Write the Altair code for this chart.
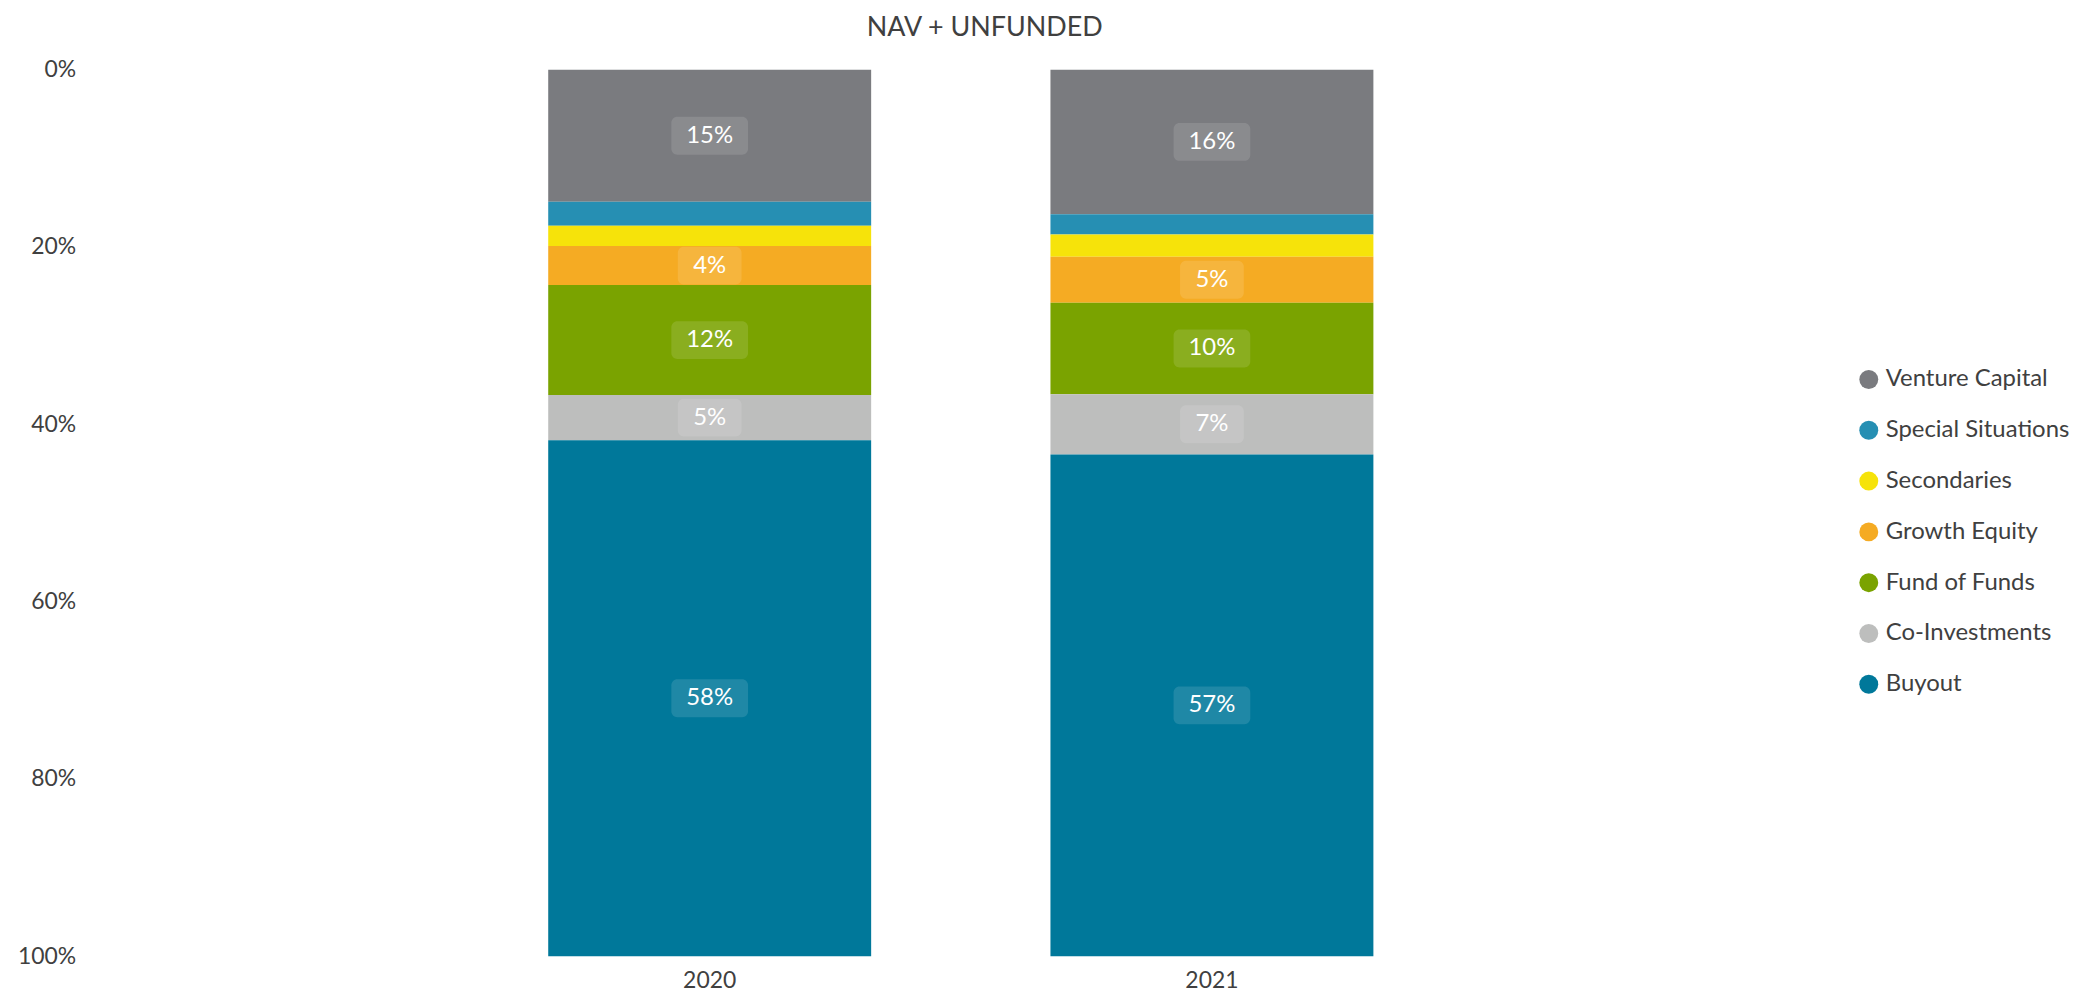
import altair as alt
import pandas as pd

years = ["2020", "2021"]
series = ["Venture Capital", "Special Situations", "Secondaries", "Growth Equity",
          "Fund of Funds", "Co-Investments", "Buyout"]
colors = ["#7A7B7F", "#268FB3", "#F6E30A", "#F5AB23", "#7AA300", "#BDBEBD", "#00789A"]
values_2020 = [14.9, 2.7, 2.3, 4.4, 12.4, 5.1, 58.2]
values_2021 = [16.3, 2.3, 2.5, 5.2, 10.3, 6.8, 56.6]
labelled = ["Venture Capital", "Growth Equity", "Fund of Funds", "Co-Investments", "Buyout"]
y_ticks = [0, 0.2, 0.4, 0.6, 0.8, 1.0]

rows = []
for yr, vals in zip(years, [values_2020, values_2021]):
    for i, (s, v) in enumerate(zip(series, vals)):
        rows.append({"year": yr, "series": s, "value": v / 100.0, "ord": i,
                     "show": s in labelled})
df = pd.DataFrame(rows)

TXT = "#404040"
FONT = "Lato"

yscale = alt.Scale(domain=[0, 1], reverse=True, nice=False, zero=True)
xscale = alt.Scale(paddingInner=0.357, paddingOuter=0.911)
xaxis = alt.Axis(title=None, labelAngle=0, domain=False, ticks=False,
                 labelPadding=13, labelFontSize=23, labelFont=FONT, labelColor=TXT)
yaxis = alt.Axis(title=None, values=y_ticks, format=".0%", domain=False,
                 ticks=False, grid=False, labelPadding=15, labelFontSize=23,
                 labelFont=FONT, labelColor=TXT, labelFlush=False)

X = alt.X("year:N", scale=xscale, sort=years, axis=xaxis)
Y = alt.Y("y0:Q", scale=yscale, axis=yaxis)
Ymid = alt.Y("mid:Q", scale=yscale, axis=yaxis)

base = alt.Chart(df).transform_stack(
    stack="value", groupby=["year"], as_=["y0", "y1"],
    sort=[alt.SortField("ord", order="ascending")]
).transform_calculate(
    mid="(datum.y0 + datum.y1) / 2",
    label="format(datum.value, '.0%')",
    nlen="length(format(datum.value, '.0%'))"
)

bars = base.mark_bar().encode(
    x=X,
    y=Y,
    y2="y1:Q",
    color=alt.Color("series:N", sort=series,
                    scale=alt.Scale(domain=series, range=colors),
                    legend=alt.Legend(title=None, orient="none", legendX=1773, legendY=299,
                                      symbolType="circle", symbolSize=361,
                                      symbolStrokeWidth=0, labelFontSize=24,
                                      labelFont=FONT, labelColor=TXT, labelOffset=5,
                                      rowPadding=27, labelLimit=400)),
)

box2 = base.transform_filter("datum.show && datum.nlen == 2").mark_bar(
    width=64, cornerRadius=6, color="white", opacity=0.12, yOffset=-19, y2Offset=19
).encode(x=X, y=Ymid, y2="mid:Q")

box3 = base.transform_filter("datum.show && datum.nlen == 3").mark_bar(
    width=77, cornerRadius=6, color="white", opacity=0.12, yOffset=-19, y2Offset=19
).encode(x=X, y=Ymid, y2="mid:Q")

texts = base.transform_filter("datum.show").mark_text(
    color="white", fontSize=24, font=FONT, baseline="middle", align="center"
).encode(x=X, y=Ymid, text="label:N")

chart = alt.layer(bars, box2, box3, texts).properties(
    width=1747, height=890,
    title=alt.TitleParams("NAV + UNFUNDED", fontSize=27, font=FONT, color=TXT,
                          fontWeight="normal", offset=17, dx=24),
    padding={"left": 9, "top": 4, "right": 0, "bottom": 0},
).configure_view(stroke=None)

chart.save("out.html", embed_options={"renderer": "svg", "actions": False})
